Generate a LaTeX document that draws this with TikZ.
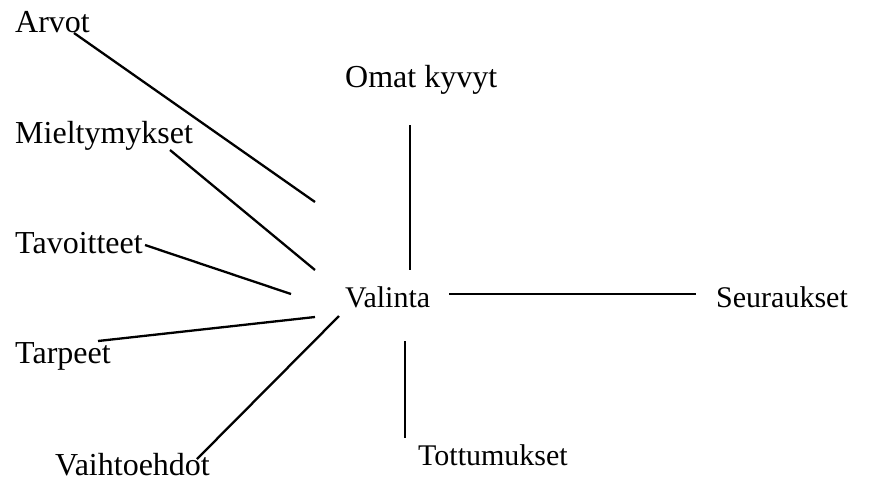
\documentclass[tikz,border=0pt]{standalone}
\usepackage{fontspec}
\setmainfont{Liberation Serif}
\begin{document}
\begin{tikzpicture}[x=1pt,y=-1pt,
  lbl/.style={anchor=base west,inner sep=0pt,font=\fontsize{30}{36}\selectfont},
  lblbig/.style={lbl,font=\fontsize{32}{38}\selectfont},
  conn/.style={line width=2.3pt,black}]
\useasboundingbox (0,0) rectangle (890,480);
\node[lblbig] (arvot) at (15,32) {Arvot};
\node[lblbig] (miel) at (15,143) {Mieltymykset};
\node[lblbig] (tavo) at (15,253) {Tavoitteet};
\node[lblbig] (tarp) at (15,363) {Tarpeet};
\node[lblbig] (vaiht) at (55,475) {Vaihtoehdot};
\node[lblbig] (omat) at (345,87) {Omat kyvyt};
\node[lbl] (valinta) at (345,307) {Valinta};
\node[lbl] (seur) at (716,307) {Seuraukset};
\node[lbl] (tott) at (418,465) {Tottumukset};
% connector end points
\coordinate (a1) at (74,33);   \coordinate (a2) at (315,202);
\coordinate (m1) at (170,150); \coordinate (m2) at (315,270);
\coordinate (t1) at (145,245); \coordinate (t2) at (291,294);
\coordinate (p1) at (98,341);  \coordinate (p2) at (315,317);
\coordinate (v1) at (197,459); \coordinate (v2) at (339,316);
\coordinate (o1) at (410,125); \coordinate (o2) at (410,270);
\coordinate (s1) at (449,294); \coordinate (s2) at (696,294);
\coordinate (k1) at (405,341); \coordinate (k2) at (405,438);
\draw[conn] (a1) -- (a2);
\draw[conn] (m1) -- (m2);
\draw[conn] (t1) -- (t2);
\draw[conn] (p1) -- (p2);
\draw[conn] (v1) -- (v2);
\draw[conn] (o1) -- (o2);
\draw[conn] (s1) -- (s2);
\draw[conn] (k1) -- (k2);
\end{tikzpicture}
\end{document}
